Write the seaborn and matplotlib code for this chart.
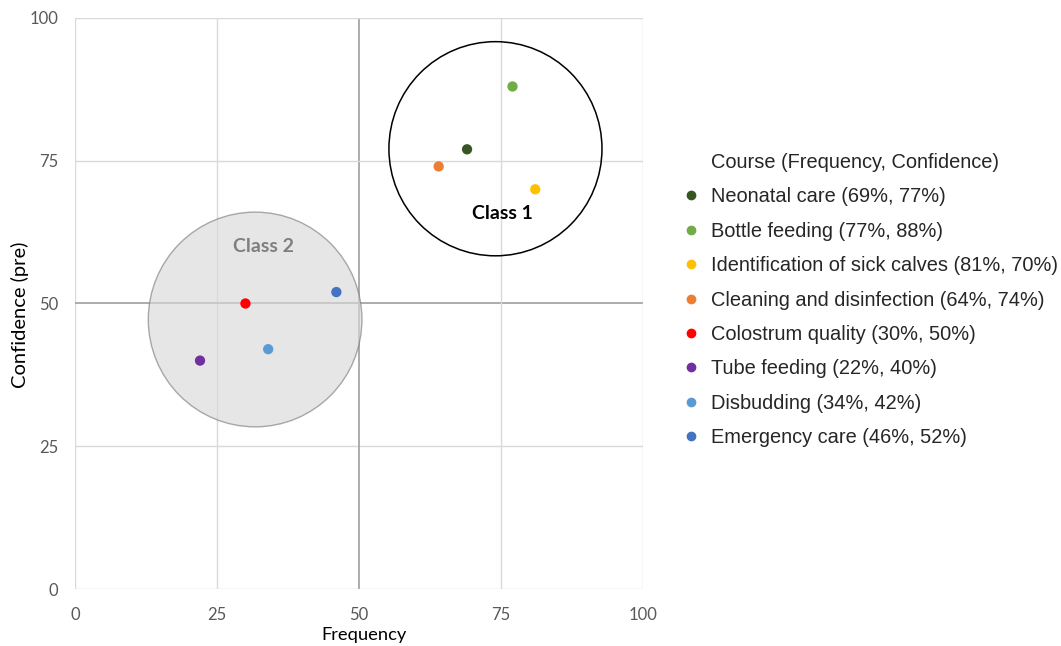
import matplotlib
matplotlib.use("Agg")
import matplotlib.pyplot as plt
import seaborn as sns
import pandas as pd
from matplotlib.patches import Ellipse
from matplotlib.lines import Line2D

# data
courses = ["Neonatal care", "Bottle feeding", "Identification of sick calves",
           "Cleaning and disinfection", "Colostrum quality", "Tube feeding",
           "Disbudding", "Emergency care"]
frequency = [69, 77, 81, 64, 30, 22, 34, 46]
confidence = [77, 88, 70, 74, 50, 40, 42, 52]
colors = ["#375623", "#70ad47", "#ffc000", "#ed7d31",
          "#ff0000", "#7030a0", "#5b9bd5", "#4472c4"]
ticks = [0, 25, 50, 75, 100]

# class circles (center x, center y, radius) in data units
class1 = (74.0, 77.1, 18.75)
class2 = (31.7, 47.2, 18.8)

df = pd.DataFrame({"course": courses, "Frequency": frequency, "Confidence": confidence})
df["label"] = [f"{c} ({f}%, {v}%)" for c, f, v in zip(courses, frequency, confidence)]
palette = dict(zip(df["label"], colors))

sns.set_style("white")
plt.rcParams['font.family'] = ['Lato', 'DejaVu Sans']

fig = plt.figure(figsize=(10.61, 6.46), dpi=100)
ax = fig.add_axes([0.0707, 0.0882, 0.5355, 0.884])

# grid
for t in ticks:
    c = "#a6a6a6" if t == 50 else "#d9d9d9"
    lw = 1.3 if t == 50 else 1.0
    ax.axvline(t, color=c, lw=lw, zorder=0.5)
    ax.axhline(t, color=c, lw=lw, zorder=0.5)

ax.add_patch(Ellipse((class2[0], class2[1]), 2 * class2[2], 2 * class2[2],
                     facecolor="#d9d9d9", edgecolor="#7f7f7f", lw=1.0, alpha=0.65, zorder=1))
ax.add_patch(Ellipse((class1[0], class1[1]), 2 * class1[2], 2 * class1[2],
                     facecolor="none", edgecolor="#000000", lw=1.1, zorder=1))

sns.scatterplot(data=df, x="Frequency", y="Confidence", hue="label", palette=palette,
                s=55, edgecolor="none", legend=False, ax=ax, zorder=3)

ax.text(33.1, 60, "Class 2", fontsize=14, fontweight="bold", color="#7f7f7f",
        ha="center", va="center")
ax.text(75.2, 65.8, "Class 1", fontsize=14, fontweight="bold", color="black",
        ha="center", va="center")

ax.set_xlim(0, 100)
ax.set_ylim(0, 100)
ax.set_xticks(ticks)
ax.set_yticks(ticks)
ax.tick_params(axis="both", length=0, labelsize=12, labelcolor="#595959")
ax.tick_params(axis="x", pad=13)
ax.tick_params(axis="y", pad=12)
for s in ax.spines.values():
    s.set_visible(False)
ax.set_xlabel("Frequency", fontsize=13.2, color="black")
ax.xaxis.set_label_coords(0.508, -0.066)
ax.set_ylabel("Confidence (pre)", fontsize=14.5, color="black")
ax.yaxis.set_label_coords(-0.081, 0.48)

handles = [Line2D([], [], marker="o", ls="", color="none")]
labels = ["Course (Frequency, Confidence)"]
for lab, col in zip(df["label"], colors):
    handles.append(Line2D([], [], marker="o", ls="", color=col, markersize=6))
    labels.append(lab)
leg = fig.legend(handles, labels, loc="upper left", bbox_to_anchor=(0.625, 0.791),
                 frameon=False, handlelength=1.0, handletextpad=0.5, labelspacing=0.77,
                 prop={"family": ["Liberation Sans", "DejaVu Sans"], "size": 14.4})

fig.savefig("out.png", dpi=100)
